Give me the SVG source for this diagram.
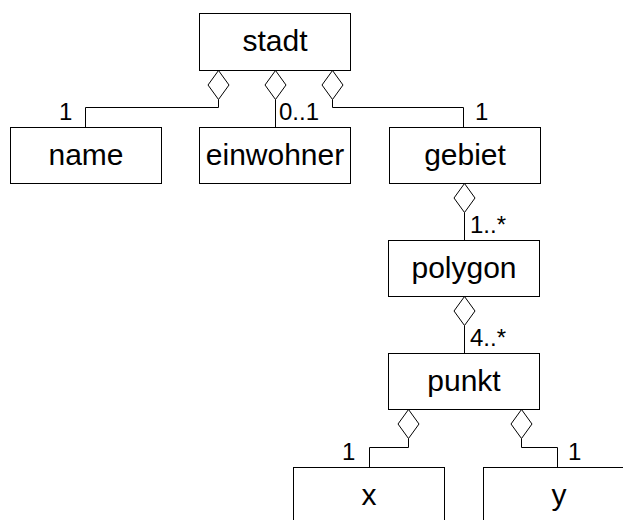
<svg xmlns="http://www.w3.org/2000/svg" width="623" height="520" viewBox="0 0 623 520">
<style>
.box{fill:#fff;stroke:#000;stroke-width:1}
.nm{font-family:"Liberation Sans",Arial,sans-serif;font-size:30px;text-anchor:middle;fill:#000}
.lb{font-family:"Liberation Sans",Arial,sans-serif;font-size:24px;fill:#000}
.ln{fill:none;stroke:#000;stroke-width:1}
.dm{fill:#fff;stroke:#000;stroke-width:1}
</style>
<defs>
<path id="dia" d="M0 0 L10.5 14.5 L0 29 L-10.5 14.5 Z"/>
</defs>
<rect width="623" height="520" fill="#fff"/>
<g id="connectors">
<path class="ln" d="M218.5 99.5 V107.5 H85.5 V127.5"/>
<path class="ln" d="M275.5 99.5 V127.5"/>
<path class="ln" d="M332.5 99.5 V107.5 H463.5 V127.5"/>
<path class="ln" d="M464.5 212.5 V240.5"/>
<path class="ln" d="M464.5 325.5 V353.5"/>
<path class="ln" d="M408.5 438.5 V447.5 H369.5 V467.5"/>
<path class="ln" d="M521.5 438.5 V447.5 H557.5 V467.5"/>
<use href="#dia" class="dm" x="218.5" y="70.5"/>
<use href="#dia" class="dm" x="275.5" y="70.5"/>
<use href="#dia" class="dm" x="332.5" y="70.5"/>
<use href="#dia" class="dm" x="464.5" y="183.5"/>
<use href="#dia" class="dm" x="464.5" y="296.5"/>
<use href="#dia" class="dm" x="408.5" y="409.5"/>
<use href="#dia" class="dm" x="521.5" y="409.5"/>
<text class="lb" x="59" y="120">1</text>
<text class="lb" x="279" y="120">0..1</text>
<text class="lb" x="475" y="120">1</text>
<text class="lb" x="470" y="233">1..*</text>
<text class="lb" x="470" y="346">4..*</text>
<text class="lb" x="342" y="460">1</text>
<text class="lb" x="568" y="460">1</text>
</g>
<g id="stadt"><rect class="box" x="199.5" y="13.5" width="151" height="57"/><text class="nm" x="275" y="51">stadt</text></g>
<g id="name"><rect class="box" x="10.5" y="127.5" width="151" height="56"/><text class="nm" x="86" y="165">name</text></g>
<g id="einwohner"><rect class="box" x="199.5" y="127.5" width="151" height="56"/><text class="nm" x="275" y="165">einwohner</text></g>
<g id="gebiet"><rect class="box" x="389.5" y="127.5" width="151" height="56"/><text class="nm" x="465" y="165">gebiet</text></g>
<g id="polygon"><rect class="box" x="388.5" y="240.5" width="151" height="56"/><text class="nm" x="464" y="278">polygon</text></g>
<g id="punkt"><rect class="box" x="388.5" y="353.5" width="151" height="56"/><text class="nm" x="464" y="391">punkt</text></g>
<g id="x"><rect class="box" x="293.5" y="467.5" width="151" height="56"/><text class="nm" x="369" y="505">x</text></g>
<g id="y"><rect class="box" x="483.5" y="467.5" width="151" height="56"/><text class="nm" x="559" y="505">y</text></g>
</svg>
